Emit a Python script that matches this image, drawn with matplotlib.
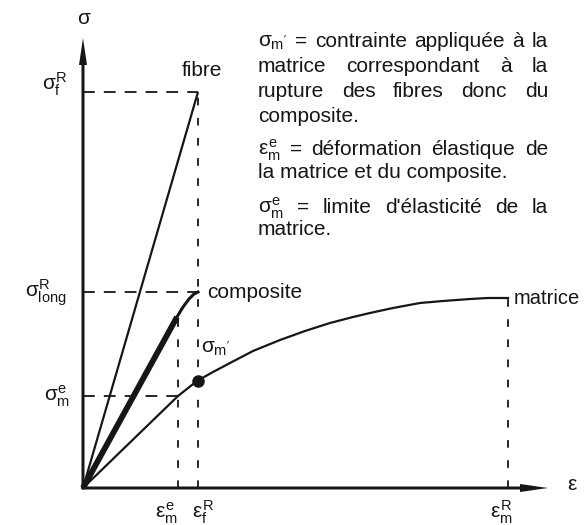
import matplotlib
matplotlib.use("Agg")
import matplotlib.pyplot as plt

plt.rcParams['font.family'] = ['Liberation Sans', 'DejaVu Sans']
plt.rcParams['mathtext.fontset'] = 'custom'
plt.rcParams['mathtext.rm'] = 'Liberation Sans'
plt.rcParams['mathtext.it'] = 'Liberation Sans'
plt.rcParams['mathtext.bf'] = 'Liberation Sans:bold'
plt.rcParams['lines.scale_dashes'] = False

# schematic values (deformation, contrainte), arbitrary units
fibre_eps = [0, 115]
fibre_sig = [0, 396]
comp_eps = [0, 94, 100, 106, 111, 115]
comp_sig = [0, 171, 181, 189, 194, 196]
matrix_eps = [0, 95, 114, 130, 147, 170, 197, 222, 247, 270, 287, 310, 337, 360, 387, 405, 425]
matrix_sig = [0, 92, 107, 116, 125, 137, 148, 157, 165, 171, 175, 180, 185, 187, 189, 190, 190]

eps_me = 95      # epsilon_m^e
eps_fR = 115     # epsilon_f^R
eps_mR = 425     # epsilon_m^R
sig_fR = 396
sig_longR = 196
sig_me = 92
sig_mprime = 107

ink = '#161616'
fs = 15

fig = plt.figure(figsize=(5.84, 5.25), dpi=100)
ax = fig.add_axes([0, 0, 1, 1])
ax.set_xlim(-83, 501)
ax.set_ylim(-37, 488)
ax.axis('off')

# axes with arrows
ax.arrow(0, 0, 0, 450, width=3, head_width=8, head_length=27,
         length_includes_head=True, fc=ink, ec=ink, lw=0)
ax.arrow(0, 0, 465, 0, width=3, head_width=8, head_length=28,
         length_includes_head=True, fc=ink, ec=ink, lw=0)

# dashed guides
hd = dict(color=ink, lw=1.3, dashes=(8.5, 6.5))
vd = dict(color=ink, lw=1.3, dashes=(5.5, 9))
ax.plot([0, eps_fR], [sig_fR, sig_fR], **hd)
ax.plot([0, eps_fR], [sig_longR, sig_longR], **hd)
ax.plot([0, eps_me], [sig_me, sig_me], **hd)
ax.plot([eps_fR, eps_fR], [0, sig_fR], **vd)
ax.plot([eps_me, eps_me], [0, comp_sig[1]], **vd)
ax.plot([eps_mR, eps_mR], [0, matrix_sig[-1]], **vd)

# curves
ax.plot(fibre_eps, fibre_sig, color=ink, lw=1.6, solid_capstyle='butt')
ax.plot(comp_eps, comp_sig, color=ink, lw=2.2, solid_joinstyle='round')
ax.plot(comp_eps[:2], comp_sig[:2], color=ink, lw=4.2, solid_capstyle='butt')
ax.plot(matrix_eps, matrix_sig, color=ink, lw=1.6, solid_joinstyle='round')
ax.plot([eps_fR], [sig_mprime], 'o', color=ink, ms=8)

# labels
ax.text(1, 470, r'$σ$', fontsize=fs, ha='center', va='center', color=ink)
ax.text(484, 3, r'$ε$', fontsize=fs, ha='left', va='center', color=ink)
ax.text(-15, sig_fR + 2, r'$σ_f^R$', fontsize=fs, ha='right', va='baseline', color=ink)
ax.text(-16, sig_longR - 5, r'$σ_{long}^R$', fontsize=fs, ha='right', va='baseline', color=ink)
ax.text(-13, sig_me - 5, r'$σ_m^e$', fontsize=fs, ha='right', va='baseline', color=ink)
ax.text(eps_me, -30, r'$ε_m^e$', fontsize=fs, ha='right', va='baseline', color=ink)
ax.text(eps_fR - 6, -30, r'$ε_f^R$', fontsize=fs, ha='left', va='baseline', color=ink)
ax.text(eps_mR - 18, -30, r'$ε_m^R$', fontsize=fs, ha='left', va='baseline', color=ink)
ax.text(99, 412, 'fibre', fontsize=fs, ha='left', va='baseline', color=ink)
ax.text(124, sig_longR, 'composite', fontsize=fs, ha='left', va='center', color=ink)
ax.text(431, matrix_sig[-1], 'matrice', fontsize=14.5, ha='left', va='center', color=ink)
ax.text(118, 139, r"$σ_{m'}$", fontsize=fs, ha='left', va='center', color=ink)

# justified text block
block_left, block_right = 175, 465
block_lines = [
    ([r"$σ_{m'}$", '=', 'contrainte', 'appliquée', 'à', 'la'], 441, True),
    (['matrice', 'correspondant', 'à', 'la'], 416, True),
    (['rupture', 'des', 'fibres', 'donc', 'du'], 391, True),
    (['composite.'], 366, False),
    ([r'$ε_m^e$', '=', 'déformation', 'élastique', 'de'], 333, True),
    (['la matrice et du composite.'], 310, False),
    ([r'$σ_m^e$', '=', 'limite', "d'élasticité", 'de', 'la'], 275, True),
    (['matrice.'], 253, False),
]

fig.canvas.draw()
rend = fig.canvas.get_renderer()
for words, y, justify in block_lines:
    objs = [ax.text(block_left, y, w, fontsize=fs, ha='left', va='baseline', color=ink)
            for w in words]
    widths = [o.get_window_extent(rend).width for o in objs]
    if justify and len(objs) > 1:
        gap = (block_right - block_left - sum(widths)) / (len(objs) - 1)
    else:
        gap = 5
    x = block_left
    for o, w in zip(objs, widths):
        o.set_x(x)
        x += w + gap

fig.savefig('out.png', dpi=100)
